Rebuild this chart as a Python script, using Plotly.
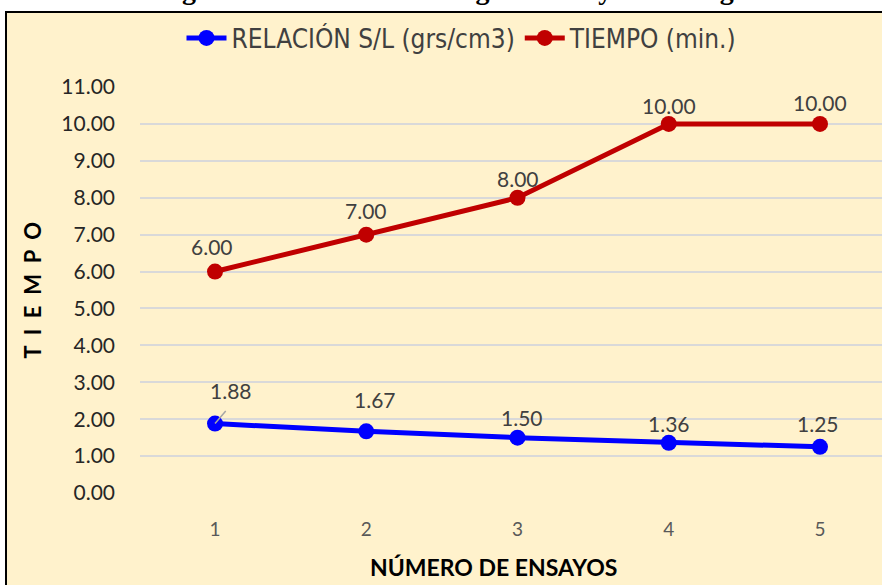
import plotly.graph_objects as go

# ── Data ────────────────────────────────────────────────────────────────
ensayos = [1, 2, 3, 4, 5]
relacion_sl = [1.88, 1.67, 1.50, 1.36, 1.25]
tiempo_min = [6.00, 7.00, 8.00, 10.00, 10.00]
y_ticks = [0, 1, 2, 3, 4, 5, 6, 7, 8, 9, 10, 11]

# label offsets (px) for the data labels
rel_shift = [(16, 33), (9, 32), (4, 20), (0, 19), (-2, 23)]
tie_shift = [(-3, 25), (0, 24), (0, 19), (0, 18), (0, 21)]

CREAM = "#FFF2CC"
LABEL_FONT = dict(family="Lato, sans-serif", size=21, color="#404040")
NARROW = "Liberation Sans Narrow, DejaVu Sans Condensed, sans-serif"

fig = go.Figure()

fig.add_trace(
    go.Scatter(
        x=ensayos,
        y=relacion_sl,
        mode="lines+markers",
        name="RELACIÓN S/L (grs/cm3)",
        line=dict(color="#0000FF", width=5),
        marker=dict(size=16, color="#0000FF"),
    )
)
fig.add_trace(
    go.Scatter(
        x=ensayos,
        y=tiempo_min,
        mode="lines+markers",
        name="TIEMPO (min.)",
        line=dict(color="#C00000", width=5),
        marker=dict(size=16, color="#C00000"),
    )
)

annotations = []
for xs, ys, shifts in [(ensayos, relacion_sl, rel_shift), (ensayos, tiempo_min, tie_shift)]:
    for xv, yv, (dx, dy) in zip(xs, ys, shifts):
        annotations.append(
            dict(
                x=xv, y=yv, xref="x", yref="y",
                text=f"{yv:.2f}", showarrow=False,
                xshift=dx, yshift=dy, font=LABEL_FONT,
            )
        )

# small leader line on the first blue label
annotations.append(
    dict(
        x=ensayos[0], y=relacion_sl[0], xref="x", yref="y",
        ax=12, ay=-14, text="", showarrow=True, arrowhead=0,
        arrowcolor="#A6A6A6", arrowwidth=1.5, standoff=0,
    )
)

# axis titles
annotations.append(
    dict(
        x=(493 - 140) / 742, y=-0.222, xref="paper", yref="paper",
        text="<b>NÚMERO DE ENSAYOS</b>", showarrow=False,
        font=dict(family="Lato, sans-serif", size=23, color="#000000"),
    )
)
annotations.append(
    dict(
        x=-0.167, y=0.5, xref="paper", yref="paper",
        text="<b>T\u00a0 I\u00a0 E\u00a0 M\u00a0 P\u00a0 O</b>", showarrow=False, textangle=-90,
        font=dict(family="Lato, sans-serif", size=22, color="#000000"),
    )
)
# figure caption, cut off at the top of the image
annotations.append(
    dict(
        x=(460 - 140) / 742, y=(493 - 7) / 406, xref="paper", yref="paper",
        yanchor="bottom",
        text="<b>Figura N° 1: Curva de Fraguado del yeso con agua</b>",
        showarrow=False,
        font=dict(family="Liberation Serif, serif", size=28, color="#000000"),
    )
)

fig.update_layout(
    width=882,
    height=585,
    margin=dict(l=140, r=0, t=87, b=92),
    paper_bgcolor="white",
    plot_bgcolor="rgba(0,0,0,0)",
    font=dict(family="Lato, sans-serif", color="#404040"),
    showlegend=True,
    legend=dict(
        orientation="h",
        x=(462 - 140) / 742, y=(493 - 38) / 406,
        xanchor="center", yanchor="middle",
        font=dict(family=NARROW, size=26, color="#404040"),
        bgcolor="rgba(0,0,0,0)",
        itemwidth=40,
    ),
    xaxis=dict(
        range=[0.504, 5.41],
        tickvals=ensayos,
        showgrid=False,
        zeroline=False,
        showline=False,
        ticks="",
        tickfont=dict(size=19, color="#595959"),
        ticklabelstandoff=23,
    ),
    yaxis=dict(
        range=[0, 11],
        tickvals=y_ticks,
        tickformat=".2f",
        showgrid=True,
        gridcolor="#D9D9D9",
        gridwidth=1.5,
        zeroline=False,
        showline=False,
        ticks="",
        tickfont=dict(size=21, color="#262626"),
        ticklabelstandoff=24,
    ),
    shapes=[
        dict(
            type="rect", xref="paper", yref="paper", layer="below",
            x0=(6 - 140) / 742, x1=1.05,
            y0=-0.3, y1=(493 - 12) / 406,
            fillcolor=CREAM, line=dict(color="black", width=2),
        )
    ],
    annotations=annotations,
)

fig.write_html(
    "out.html",
    config={"displayModeBar": False},
    post_script="document.body.style.margin = '0';",
)
